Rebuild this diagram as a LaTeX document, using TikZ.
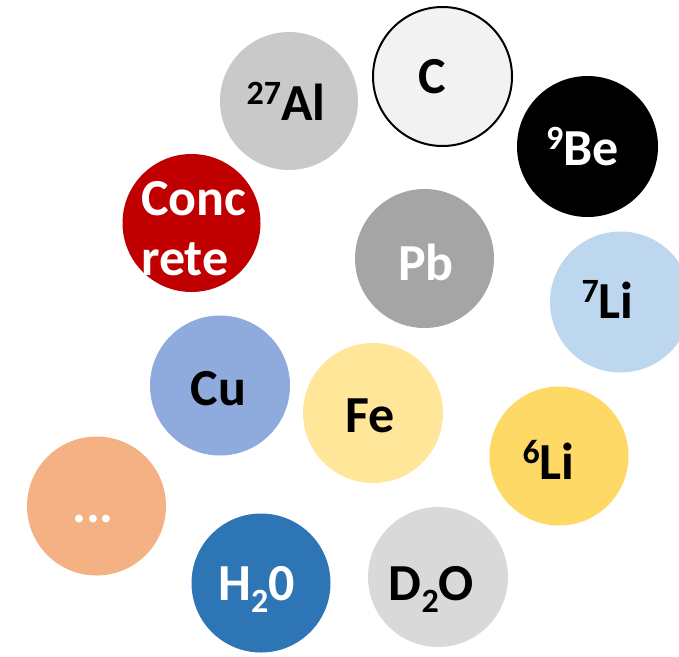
\documentclass[tikz,border=0pt]{standalone}
\usepackage{fontspec}
\setmainfont{Carlito}
\definecolor{cC}{HTML}{F2F2F2}
\definecolor{cAl}{HTML}{C9C9C9}
\definecolor{cBe}{HTML}{000000}
\definecolor{cCon}{HTML}{C00000}
\definecolor{cPb}{HTML}{A5A5A5}
\definecolor{cLiS}{HTML}{BDD7EE}
\definecolor{cCu}{HTML}{8FAADC}
\definecolor{cFe}{HTML}{FFE699}
\definecolor{cLiV}{HTML}{FFD966}
\definecolor{cDots}{HTML}{F4B183}
\definecolor{cH}{HTML}{2E75B6}
\definecolor{cD}{HTML}{D9D9D9}
\newcommand{\upnum}[1]{\raisebox{16pt}{\fontsize{34}{34}\selectfont #1}}
\newcommand{\downnum}[1]{\raisebox{-12pt}{\fontsize{34}{34}\selectfont #1}}
\begin{document}
\begin{tikzpicture}[x=1pt,y=-1pt,
  ball/.style={circle, draw=none, inner sep=0pt, minimum size=#1},
  ball/.default=139pt,
  lbl/.style={inner sep=0pt, anchor=base, font=\fontsize{52}{62}\selectfont\bfseries},
  lblw/.style={lbl, text=white}]
\useasboundingbox (0,0) rectangle (679,656);
% circles
\node[ball=139pt, fill=cC, draw=black, line width=2pt] (cC) at (442.5,76.5) {};
\node[ball=138pt, fill=cAl] (cAl) at (289,101) {};
\node[ball=141pt, fill=cBe] (cBe) at (587.5,146.5) {};
\node[ball=138pt, fill=cCon] (cCon) at (191.5,223) {};
\node[ball=139pt, fill=cPb] (cPb) at (424.5,258.5) {};
\node[ball=141pt, fill=cLiS] (cLiS) at (620.5,302) {};
\node[ball=140pt, fill=cCu] (cCu) at (220,385.5) {};
\node[ball=140pt, fill=cFe] (cFe) at (373,413) {};
\node[ball=139pt, fill=cLiV] (cLiV) at (559,456) {};
\node[ball=139pt, fill=cDots] (cDots) at (96.5,506) {};
\node[ball=139pt, fill=cH] (cH) at (261,583) {};
\node[ball=140pt, fill=cD] (cD) at (438,577) {};
% labels
\node[lbl] (tC) at (432.5,93) {C};
\node[lbl] (tAl) at (286,120) {\upnum{27}Al};
\node[lblw] (tBe) at (582.5,165) {\upnum{9}Be};
\node[lblw, anchor=base west] (tCon1) at (141,215) {Conc};
\node[lblw, anchor=base west] (tCon2) at (141,275) {rete};
\node[lblw] (tPb) at (426,280) {Pb};
\node[lbl] (tLiS) at (607.5,318) {\upnum{7}Li};
\node[lbl] (tCu) at (218.5,405) {Cu};
\node[lbl] (tFe) at (370,432) {Fe};
\node[lbl] (tLiV) at (548.5,479) {\upnum{6}Li};
\node[lblw] (tDots) at (93,522) {...};
\node[lblw] (tH) at (256.5,600) {H\downnum{2}0};
\node[lbl] (tD) at (431.5,600) {D\downnum{2}O};
\end{tikzpicture}
\end{document}
